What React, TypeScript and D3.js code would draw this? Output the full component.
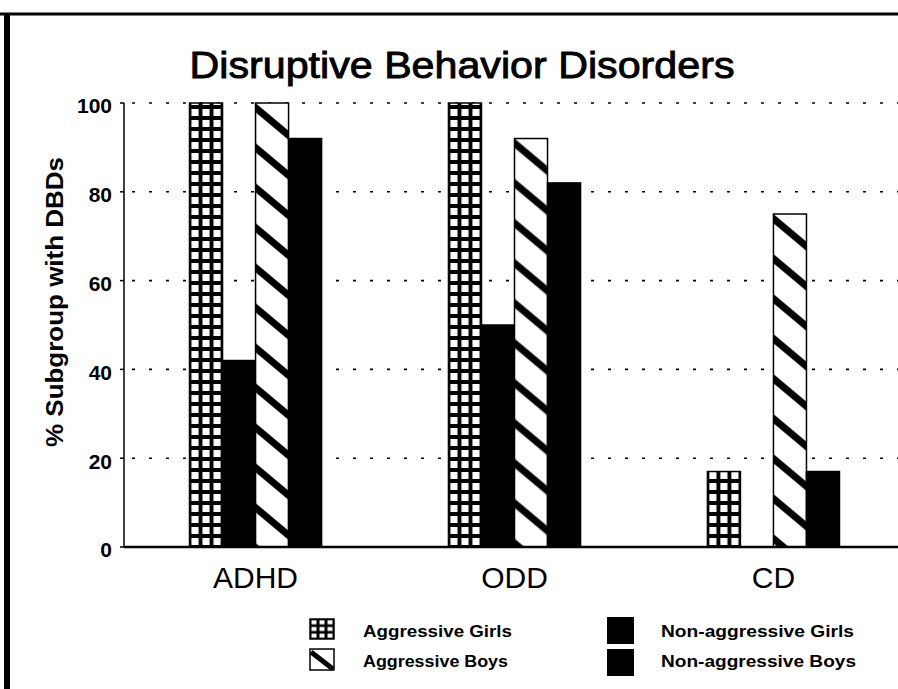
import React from "react";
import * as d3 from "d3";

const categories = ["ADHD", "ODD", "CD"];
const seriesKeys = ["aggGirls", "nonAggGirls", "aggBoys", "nonAggBoys"];
const seriesLabels = ["Aggressive Girls", "Non-aggressive Girls", "Aggressive Boys", "Non-aggressive Boys"];
const aggressiveGirls = [100, 100, 17];
const nonAggressiveGirls = [42, 50, 0];
const aggressiveBoys = [100, 92, 75];
const nonAggressiveBoys = [92, 82, 17];
const yTicks = [0, 20, 40, 60, 80, 100];
const gridTicks = [20, 40, 60, 80, 100];
const titleText = "Disruptive Behavior Disorders";
const yLabelText = "% Subgroup with DBDs";

const W = 898;
const H = 689;
const FONT = "'Liberation Sans', Arial, Helvetica, sans-serif";

export default function App() {
  const axisX = 124;
  const yTop = 103;
  const yBottom = 547;
  const y = d3.scaleLinear().domain([0, 100]).range([yBottom, yTop]);
  const x0 = d3
    .scaleBand<string>()
    .domain(categories)
    .range([axisX, 905])
    .paddingInner(0.49)
    .paddingOuter(0.253);
  const x1 = d3.scaleBand<string>().domain(seriesKeys).range([0, x0.bandwidth()]);
  const values = [aggressiveGirls, nonAggressiveGirls, aggressiveBoys, nonAggressiveBoys];
  const bw = x1.bandwidth();

  const bars: any[] = [];
  categories.forEach((cat, ci) => {
    seriesKeys.forEach((key, si) => {
      const v = values[si][ci];
      if (v <= 0) return;
      bars.push({
        id: `${key}-${ci}`,
        key,
        x: (x0(cat) as number) + (x1(key) as number),
        top: y(v),
        h: y(0) - y(v),
      });
    });
  });

  const legendItems = [
    { key: "aggGirls", label: seriesLabels[0], sx: 310, sy: 619, sw: 24, sh: 20, tx: 363, ty: 631, tl: 149 },
    { key: "aggBoys", label: seriesLabels[2], sx: 310, sy: 649, sw: 24, sh: 21, tx: 363, ty: 661, tl: 145 },
    { key: "nonAggGirls", label: seriesLabels[1], sx: 607, sy: 617, sw: 27, sh: 27, tx: 661, ty: 631, tl: 193 },
    { key: "nonAggBoys", label: seriesLabels[3], sx: 607, sy: 649, sw: 27, sh: 27, tx: 661, ty: 661, tl: 195 },
  ];

  return (
    <div style={{ position: "fixed", left: 0, top: 0, width: W, height: H, background: "#fff" }}>
      <svg width={W} height={H} viewBox={`0 0 ${W} ${H}`} style={{ display: "block" }}>
        <defs>
          {bars
            .filter((b) => b.key === "aggGirls")
            .map((b) => (
              <pattern key={b.id} id={`pat-${b.id}`} patternUnits="userSpaceOnUse" x={b.x} y={yBottom} width={bw / 3} height={11}>
                <rect width={bw / 3} height={11} fill="#000" />
                <rect x={2} y={2} width={bw / 3 - 4} height={7} fill="#fff" />
              </pattern>
            ))}
          {bars
            .filter((b) => b.key === "aggBoys")
            .map((b) => (
              <pattern key={b.id} id={`pat-${b.id}`} patternUnits="userSpaceOnUse" x={b.x} y={b.top} width={bw} height={40}>
                <rect width={bw} height={40} fill="#fff" />
                {[-1, 0, 1].map((k) => (
                  <line key={k} x1={-2} y1={k * 40 + 3} x2={bw + 2} y2={k * 40 + 34} stroke="#000" strokeWidth={7} />
                ))}
              </pattern>
            ))}
          <pattern id="leg-grid" patternUnits="userSpaceOnUse" x={310} y={619} width={8} height={6.67}>
            <rect width={8} height={6.67} fill="#000" />
            <rect x={1.5} y={1.3} width={5} height={4} fill="#fff" />
          </pattern>
        </defs>

        {/* frame */}
        <line x1={0} y1={14} x2={W} y2={14} stroke="#000" strokeWidth={3} />
        <line x1={7} y1={13} x2={7} y2={H} stroke="#000" strokeWidth={6} />

        {/* title */}
        <text
          x={462}
          y={78}
          textAnchor="middle"
          fontFamily={FONT}
          fontSize={37}
          textLength={545}
          lengthAdjust="spacingAndGlyphs"
          stroke="#000"
          strokeWidth={0.9}
          fill="#000"
        >
          {titleText}
        </text>

        {/* gridlines */}
        {gridTicks.map((t) => (
          <line key={t} x1={axisX + 8} x2={W} y1={y(t)} y2={y(t)} stroke="#000" strokeWidth={1.6} strokeDasharray="3 14" />
        ))}

        {/* bars */}
        {bars.map((b) => {
          let fill = "#000";
          if (b.key === "aggGirls" || b.key === "aggBoys") fill = `url(#pat-${b.id})`;
          return (
            <rect key={b.id} x={b.x} y={b.top} width={bw} height={b.h} fill={fill} stroke="#000" strokeWidth={1.5} />
          );
        })}

        {/* axes */}
        <line x1={axisX} x2={axisX} y1={yTop} y2={yBottom} stroke="#000" strokeWidth={1.5} />
        {yTicks.map((t) => (
          <line key={t} x1={axisX - 4} x2={axisX} y1={y(t)} y2={y(t)} stroke="#000" strokeWidth={1.5} />
        ))}
        <line x1={axisX} x2={W} y1={yBottom} y2={yBottom} stroke="#000" strokeWidth={2.5} />

        {yTicks.map((t) => (
          <text
            key={t}
            x={112}
            y={y(t) + 3}
            dy="0.35em"
            textAnchor="end"
            fontFamily={FONT}
            fontWeight="bold"
            fontSize={21}
            fill="#000"
          >
            {t}
          </text>
        ))}

        <text
          transform={`translate(63, 302) rotate(-90)`}
          textAnchor="middle"
          fontFamily={FONT}
          fontWeight="bold"
          fontSize={23}
          textLength={290}
          lengthAdjust="spacingAndGlyphs"
          fill="#000"
        >
          {yLabelText}
        </text>

        {categories.map((c) => (
          <text
            key={c}
            x={(x0(c) as number) + x0.bandwidth() / 2}
            y={588}
            textAnchor="middle"
            fontFamily={FONT}
            fontSize={30}
            fill="#000"
          >
            {c}
          </text>
        ))}

        {/* legend */}
        {legendItems.map((it) => (
          <g key={it.key}>
            {it.key === "aggGirls" && (
              <rect x={it.sx} y={it.sy} width={it.sw} height={it.sh} fill="url(#leg-grid)" stroke="#000" strokeWidth={1.5} />
            )}
            {it.key === "aggBoys" && (
              <g>
                <rect x={it.sx} y={it.sy} width={it.sw} height={it.sh} fill="#fff" stroke="#000" strokeWidth={1.5} />
                <line x1={it.sx + 1} y1={it.sy + 3} x2={it.sx + it.sw - 1} y2={it.sy + it.sh - 1} stroke="#000" strokeWidth={5} />
              </g>
            )}
            {(it.key === "nonAggGirls" || it.key === "nonAggBoys") && (
              <rect x={it.sx} y={it.sy} width={it.sw} height={it.sh} fill="#000" />
            )}
            <text
              x={it.tx}
              y={it.ty}
              dy="0.35em"
              fontFamily={FONT}
              fontWeight="bold"
              fontSize={16}
              textLength={it.tl}
              lengthAdjust="spacingAndGlyphs"
              fill="#000"
            >
              {it.label}
            </text>
          </g>
        ))}
      </svg>
    </div>
  );
}
